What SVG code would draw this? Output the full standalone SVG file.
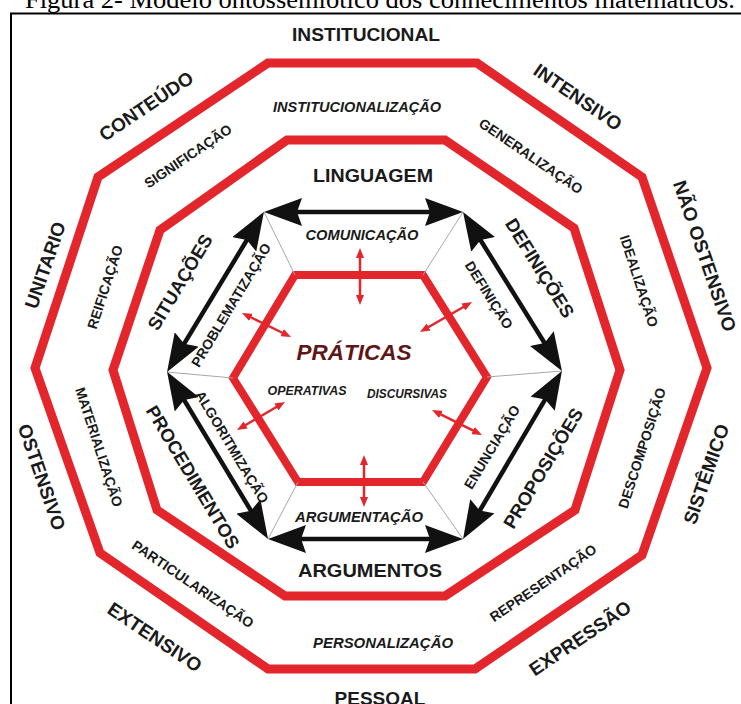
<svg xmlns="http://www.w3.org/2000/svg" width="741" height="704" viewBox="0 0 741 704">
<style>
text{font-family:"Liberation Sans",Arial,sans-serif;font-weight:bold;fill:#1a1a1a;text-anchor:middle}
.cap{font-family:"Liberation Serif","Times New Roman",serif;font-weight:normal;font-size:26px;text-anchor:start;fill:#000}
.o{font-size:19px}
.m{font-size:14px}
.mi{font-size:14px;font-style:italic}
.n{font-size:18.5px}
.a{font-size:14px}
.sm{font-size:12px;font-style:italic}
.pr{font-size:22px;font-style:italic;fill:#5e1616}
.ring{fill:none;stroke:#e3262b;stroke-width:9;stroke-linejoin:miter}
.hex{fill:none;stroke:#e3262b;stroke-width:8;stroke-linejoin:miter}
.ba{stroke:#111;stroke-width:4.5;fill:none;marker-start:url(#bh);marker-end:url(#bh)}
.ra{stroke:#e3262b;stroke-width:2.5;fill:none;marker-start:url(#rh);marker-end:url(#rh)}
.gl{stroke:#a8a8a8;stroke-width:1;fill:none}
</style>
<defs>
<marker id="bh" viewBox="0 0 38 28" refX="18" refY="14" markerWidth="38" markerHeight="28" markerUnits="userSpaceOnUse" orient="auto-start-reverse"><path d="M38,14 L0,0 L5,14 L0,28 Z" fill="#111"/></marker>
<marker id="rh" viewBox="0 0 10 8" refX="2" refY="4" markerWidth="10" markerHeight="8" markerUnits="userSpaceOnUse" orient="auto-start-reverse"><path d="M10,4 L0,0 L0,8 Z" fill="#e3262b"/></marker>
</defs>
<rect width="741" height="704" fill="#fff"/>
<text class="cap" x="25" y="8" textLength="710" lengthAdjust="spacingAndGlyphs">Figura 2- Modelo ontossemiótico dos conhecimentos matemáticos.</text>
<path d="M11,710 V13.5 H750" fill="none" stroke="#000" stroke-width="2"/>

<g id="outer-ring">
<polygon class="ring" points="268,63 477,63 642,177 707,368 642,555 475,669 268,669 100,553 35,368 98,177"/>
</g>
<g id="middle-ring">
<polygon class="ring" points="287,140 445,140 574,228 620,370 575,510 445,596 285,596 157,510 113,370 160,230"/>
</g>
<g id="praticas-hexagon">
<polygon class="hex" points="295,275 423,275 487,377 423,482 298,482 233,378"/>
</g>

<g id="connectors">
<path class="gl" d="M295,275 L264,212 M423,275 L463,212 M487,377 L562,371 M423,482 L463,539 M298,482 L268,539 M233,378 L167,372"/>
<line class="ba" x1="284" y1="212" x2="443" y2="212"/>
<line class="ba" x1="473.6" y1="229" x2="551.4" y2="354"/>
<line class="ba" x1="551.8" y1="388.2" x2="473.2" y2="521.8"/>
<line class="ba" x1="443" y1="539" x2="288" y2="539"/>
<line class="ba" x1="257.7" y1="521.9" x2="177.4" y2="388.9"/>
<line class="ba" x1="177.4" y1="354.9" x2="253.6" y2="228.9"/>
<line class="ra" x1="360" y1="256" x2="360" y2="297"/>
<line class="ra" x1="364" y1="463" x2="364" y2="499"/>
<line class="ra" x1="249.2" y1="316.5" x2="283.8" y2="333.5"/>
<line class="ra" x1="426.9" y1="328" x2="465.1" y2="306"/>
<line class="ra" x1="243.9" y1="426" x2="278.1" y2="406"/>
<line class="ra" x1="439.2" y1="413.6" x2="474.8" y2="431.4"/>
</g>

<g id="outer-labels">
<text class="o" x="366" y="41" textLength="148" lengthAdjust="spacingAndGlyphs">INSTITUCIONAL</text>
<text class="o" transform="translate(578,97) rotate(34.6)" y="6.8">INTENSIVO</text>
<text class="o" transform="translate(705,256) rotate(71)" y="6.8">NÃO OSTENSIVO</text>
<text class="o" transform="translate(706,474) rotate(-71)" y="6.8">SISTÊMICO</text>
<text class="o" transform="translate(580,638) rotate(-34)" y="6.8">EXPRESSÃO</text>
<text class="o" x="380" y="705">PESSOAL</text>
<text class="o" transform="translate(155,637) rotate(34)" y="6.8">EXTENSIVO</text>
<text class="o" transform="translate(42,477) rotate(71)" y="6.8">OSTENSIVO</text>
<text class="o" transform="translate(45,265) rotate(-71)" y="6.8">UNITARIO</text>
<text class="o" transform="translate(146,106) rotate(-34)" y="6.8">CONTEÚDO</text>
</g>

<g id="middle-labels">
<text class="mi" x="357" y="112" textLength="168" lengthAdjust="spacingAndGlyphs">INSTITUCIONALIZAÇÃO</text>
<text class="m" transform="translate(531,156) rotate(34.3)" y="5">GENERALIZAÇÃO</text>
<text class="m" transform="translate(639,281) rotate(72)" y="5">IDEALIZAÇÃO</text>
<text class="m" transform="translate(642,448) rotate(-72)" y="5">DESCOMPOSIÇÃO</text>
<text class="m" transform="translate(543,583) rotate(-34.3)" y="5">REPRESENTAÇÃO</text>
<text class="mi" x="383" y="648" textLength="140" lengthAdjust="spacingAndGlyphs">PERSONALIZAÇÃO</text>
<text class="m" transform="translate(193,584) rotate(34.3)" y="5">PARTICULARIZAÇÃO</text>
<text class="m" transform="translate(99,447) rotate(72)" y="5">MATERIALIZAÇÃO</text>
<text class="m" transform="translate(105,287) rotate(-72)" y="5">REIFICAÇÃO</text>
<text class="m" transform="translate(188,156) rotate(-34)" y="5">SIGNIFICAÇÃO</text>
</g>

<g id="inner-labels">
<text class="n" x="373" y="182" textLength="120" lengthAdjust="spacingAndGlyphs">LINGUAGEM</text>
<text class="n" transform="translate(540,268) rotate(58)" y="6.6">DEFINIÇÕES</text>
<text class="n" transform="translate(543,468) rotate(-59)" y="6.6">PROPOSIÇÕES</text>
<text class="n" x="370" y="577" textLength="144" lengthAdjust="spacingAndGlyphs">ARGUMENTOS</text>
<text class="n" transform="translate(193,477) rotate(59)" y="6.6">PROCEDIMENTOS</text>
<text class="n" transform="translate(180,282) rotate(-59)" y="6.6">SITUAÇÕES</text>
</g>

<g id="arrow-labels">
<text class="mi" x="362" y="240" textLength="113" lengthAdjust="spacingAndGlyphs">COMUNICAÇÃO</text>
<text class="a" transform="translate(489,295) rotate(58)" y="5">DEFINIÇÃO</text>
<text class="a" transform="translate(492,447) rotate(-59)" y="5">ENUNCIAÇÃO</text>
<text class="mi" x="359" y="522" textLength="128" lengthAdjust="spacingAndGlyphs">ARGUMENTAÇÃO</text>
<text class="a" transform="translate(232,447) rotate(59)" y="5">ALGORITMIZAÇÃO</text>
<text class="a" transform="translate(231,305) rotate(-59)" y="5">PROBLEMATIZAÇÃO</text>
</g>

<g id="praticas">
<text class="pr" x="354" y="360" textLength="115" lengthAdjust="spacingAndGlyphs">PRÁTICAS</text>
<text class="sm" x="307" y="395" textLength="79" lengthAdjust="spacingAndGlyphs">OPERATIVAS</text>
<text class="sm" x="407" y="398" textLength="80" lengthAdjust="spacingAndGlyphs">DISCURSIVAS</text>
</g>
</svg>
